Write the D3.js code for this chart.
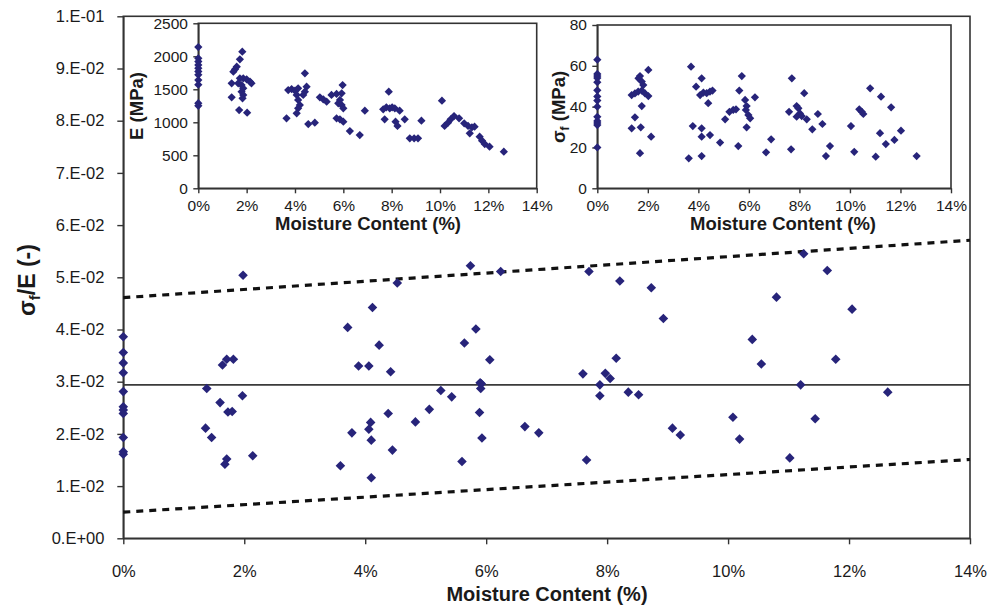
<!DOCTYPE html>
<html>
<head>
<meta charset="utf-8">
<script src="https://cdn.jsdelivr.net/npm/d3@7/dist/d3.min.js"></script>
<style>
  html, body { margin: 0; padding: 0; background: #fff; }
  svg { display: block; font-family: "Liberation Sans", Arial, sans-serif; }
</style>
</head>
<body>
<svg id="chart" width="991" height="610"></svg>
<script>
// ---------------- DATA ----------------
const mainXTicks = [0, 2, 4, 6, 8, 10, 12, 14];
const mainXTickLabels = ["0%", "2%", "4%", "6%", "8%", "10%", "12%", "14%"];
const mainYTicks = [0, 0.01, 0.02, 0.03, 0.04, 0.05, 0.06, 0.07, 0.08, 0.09, 0.1];
const mainYTickLabels = ["0.E+00", "1.E-02", "2.E-02", "3.E-02", "4.E-02", "5.E-02", "6.E-02", "7.E-02", "8.E-02", "9.E-02", "1.E-01"];

// sigma_f / E versus moisture content (%)
const ratioPoints = [
  [0, 0.0386], [0, 0.0356], [0, 0.0336], [0, 0.0317], [0, 0.0281], [0, 0.0252], [0, 0.0246], [0, 0.0239], [0, 0.0193], [0, 0.0166], [0, 0.0161],
  [1.98, 0.0504], [1.38, 0.0287], [1.64, 0.0332], [1.71, 0.0343], [1.82, 0.0343], [1.97, 0.0273], [1.60, 0.0260], [1.73, 0.0242], [1.80, 0.0243],
  [1.36, 0.0211], [1.46, 0.0193], [2.14, 0.0158], [1.71, 0.0152], [1.68, 0.0142],
  [5.74, 0.0522], [6.24, 0.0511], [4.53, 0.0489], [4.12, 0.0442], [3.71, 0.0404], [5.83, 0.0401], [4.23, 0.0370], [5.64, 0.0374], [6.06, 0.0342],
  [3.89, 0.0330], [4.06, 0.0330], [4.42, 0.0319], [5.90, 0.0298], [5.92, 0.0296], [5.91, 0.0287], [5.25, 0.0283], [5.43, 0.0271], [5.06, 0.0247],
  [5.89, 0.0241], [4.38, 0.0239], [4.83, 0.0223], [4.09, 0.0222], [3.78, 0.0202], [4.06, 0.0209], [4.10, 0.0188], [5.93, 0.0192], [6.64, 0.0214],
  [6.87, 0.0202], [4.45, 0.0169], [5.60, 0.0147], [3.59, 0.0139], [4.10, 0.0116],
  [7.70, 0.0511], [8.21, 0.0493], [8.73, 0.0480], [8.93, 0.0421], [10.40, 0.0381], [8.15, 0.0345], [7.60, 0.0315], [7.97, 0.0316], [8.05, 0.0306],
  [7.88, 0.0294], [7.88, 0.0273], [8.35, 0.0280], [8.52, 0.0275], [9.08, 0.0211], [9.21, 0.0198], [10.08, 0.0232], [10.19, 0.0190], [7.66, 0.0150],
  [11.25, 0.0545], [11.64, 0.0513], [10.80, 0.0462], [12.05, 0.0439], [10.55, 0.0334], [11.78, 0.0343], [11.20, 0.0294], [12.64, 0.0280],
  [11.44, 0.0229], [11.02, 0.0154]
];
const meanRatio = 0.0294;
const upperBound = [[0, 0.0461], [14, 0.0571]];
const lowerBound = [[0, 0.0050], [14, 0.0151]];

// Inset 1: E (MPa) versus moisture content (%)
const insetXTicks = [0, 2, 4, 6, 8, 10, 12, 14];
const insetXTickLabels = ["0%", "2%", "4%", "6%", "8%", "10%", "12%", "14%"];
const eTicks = [0, 500, 1000, 1500, 2000, 2500];
const ePoints = [
  [0, 2140], [0, 1970], [0, 1920], [0, 1870], [0, 1820], [0, 1770], [0, 1720], [0, 1640], [0, 1570], [0, 1290], [0, 1250],
  [1.82, 2070], [1.72, 1954], [1.59, 1843], [1.52, 1803], [1.45, 1767], [1.38, 1591], [1.72, 1667], [1.86, 1667], [2.0, 1651], [2.14, 1615],
  [2.2, 1591], [1.65, 1591], [1.79, 1565], [1.86, 1515], [1.79, 1464], [1.86, 1414], [1.38, 1379], [1.83, 1364], [1.69, 1186], [2.02, 1146],
  [3.65, 1060], [3.72, 1489], [3.86, 1504], [4.0, 1479], [4.13, 1515], [4.41, 1742], [4.48, 1540], [4.41, 1464], [4.34, 1414], [4.07, 1414],
  [4.13, 1338], [4.2, 1262], [4.13, 1212], [4.07, 1136], [4.55, 974], [4.82, 994], [5.03, 1379], [5.17, 1348], [5.31, 1312], [5.51, 1414],
  [5.72, 1429], [5.93, 1439], [5.97, 1565], [5.86, 1338], [5.93, 1262], [5.79, 1288], [6.0, 1212], [5.72, 1060], [5.86, 1045], [6.0, 1009],
  [6.27, 868], [6.68, 807], [6.89, 1176],
  [7.88, 1464], [7.65, 1197], [7.78, 1227], [7.92, 1212], [8.02, 1227], [8.13, 1212], [8.33, 1176], [7.71, 1045], [8.16, 1009], [8.24, 944],
  [8.54, 1045], [8.75, 757], [8.93, 757], [9.09, 757], [9.23, 1024],
  [10.08, 1327], [10.19, 944], [10.33, 994], [10.44, 1045], [10.58, 1095], [10.79, 1060], [11.0, 985], [11.16, 944], [11.32, 924], [11.43, 933],
  [11.23, 833], [11.64, 782], [11.74, 721], [11.85, 671], [12.05, 630], [12.64, 554]
];

// Inset 2: sigma_f (MPa) versus moisture content (%)
const sTicks = [0, 20, 40, 60, 80];
const sPoints = [
  [0, 63], [0, 56], [0, 55], [0, 54], [0, 52], [0, 48], [0, 45], [0, 43], [0, 40], [0, 35], [0, 33], [0, 32], [0, 31], [0, 20],
  [1.69, 55.0], [1.63, 53.9], [1.76, 52.3], [1.82, 50.6], [2.02, 58.0], [1.36, 45.7], [1.49, 46.5], [1.62, 47.4], [1.76, 47.9], [1.89, 46.5],
  [2.02, 45.2], [1.76, 40.3], [1.49, 34.8], [1.36, 29.4], [1.72, 29.9], [2.13, 25.3], [1.69, 17.2],
  [3.71, 59.6], [4.13, 53.9], [3.91, 49.8], [4.07, 45.7], [4.2, 46.9], [4.33, 46.6], [4.46, 47.4], [4.56, 47.9], [4.39, 41.7], [3.78, 30.5],
  [4.13, 29.4], [4.13, 25.3], [4.46, 26.1], [4.86, 22.4], [3.62, 14.7], [4.13, 15.8],
  [5.06, 33.8], [5.23, 37.5], [5.38, 38.4], [5.49, 38.7], [5.72, 55.0], [5.62, 47.9], [5.58, 20.7], [5.85, 43.3], [5.91, 40.3], [5.88, 38.4],
  [5.98, 35.9], [6.05, 34.3], [5.91, 29.9], [6.24, 44.6], [6.68, 17.6], [6.88, 24.0],
  [7.70, 53.9], [8.19, 46.6], [7.89, 40.3], [7.96, 39.2], [7.59, 37.5], [8.02, 36.7], [7.89, 35.1], [8.09, 35.4], [8.29, 33.8], [8.73, 36.4],
  [8.51, 28.9], [8.91, 31.5], [7.67, 19.1], [9.21, 20.7], [9.05, 15.8], [10.04, 30.5], [10.17, 17.9], [10.37, 38.7], [10.47, 37.5], [10.53, 36.4],
  [10.80, 49.0], [11.23, 44.9], [11.63, 39.7], [11.19, 27.0], [11.02, 15.5], [11.42, 21.7], [11.76, 23.7], [12.02, 28.2], [12.64, 15.8]
];

// ---------------- DRAW ----------------
const svg = d3.select("#chart");
const markerColor = "#27247a";
const axisColor = "#333";
const textColor = "#1a1a1a";

// square rotated 45 degrees -> Excel-style diamond
const square = d3.symbol().type(d3.symbolSquare);

function drawAxes(g, x, y, xTicks, xLabels, yTicks, yLabels, fontSize, tickLen) {
  const [x0, x1] = x.range();
  const [y0, y1] = y.range();
  g.append("rect")
    .attr("x", x0).attr("y", y1)
    .attr("width", x1 - x0).attr("height", y0 - y1)
    .attr("fill", "#fff").attr("stroke", axisColor).attr("stroke-width", 1.6);

  const xAxis = d3.axisBottom(x).tickValues(xTicks).tickSize(tickLen).tickSizeOuter(0)
    .tickFormat((d, i) => xLabels[i]);
  const gx = g.append("g").attr("transform", `translate(0,${y0})`).call(xAxis);
  gx.select(".domain").attr("stroke", axisColor).attr("stroke-width", 1.6);
  gx.selectAll(".tick line").attr("stroke", axisColor).attr("stroke-width", 1.4);
  gx.selectAll(".tick text").attr("fill", textColor).attr("font-size", fontSize)
    .attr("font-family", "Liberation Sans, Arial, sans-serif");

  const yAxis = d3.axisLeft(y).tickValues(yTicks).tickSize(tickLen).tickSizeOuter(0)
    .tickFormat((d, i) => yLabels[i]);
  const gy = g.append("g").attr("transform", `translate(${x0},0)`).call(yAxis);
  gy.select(".domain").attr("stroke", axisColor).attr("stroke-width", 1.6);
  gy.selectAll(".tick line").attr("stroke", axisColor).attr("stroke-width", 1.4);
  gy.selectAll(".tick text").attr("fill", textColor).attr("font-size", fontSize)
    .attr("font-family", "Liberation Sans, Arial, sans-serif");
  return { gx, gy };
}

// ----- Main chart -----
const mx = d3.scaleLinear().domain([0, 14]).range([123.3, 970]);
const my = d3.scaleLinear().domain([0, 0.1]).range([538.3, 16.3]);
const main = svg.append("g");
const mAx = drawAxes(main, mx, my, mainXTicks, mainXTickLabels, mainYTicks, mainYTickLabels, 16.5, 6);
mAx.gx.selectAll(".tick text").attr("dy", "1.8em");
mAx.gy.selectAll(".tick text").attr("dx", "-0.6em");

main.append("line")
  .attr("x1", mx(0)).attr("x2", mx(14))
  .attr("y1", my(meanRatio)).attr("y2", my(meanRatio))
  .attr("stroke", "#3a3a3a").attr("stroke-width", 1.6);

const lineGen = d3.line().x(d => mx(d[0])).y(d => my(d[1]));
[upperBound, lowerBound].forEach(b => {
  main.append("path").attr("d", lineGen(b))
    .attr("fill", "none").attr("stroke", "#111").attr("stroke-width", 3.2)
    .attr("stroke-dasharray", "7,6");
});

main.append("g").selectAll("path").data(ratioPoints).join("path")
  .attr("d", square.size(46)())
  .attr("transform", d => `translate(${mx(d[0])},${my(d[1])}) rotate(45)`)
  .attr("fill", markerColor);

main.append("text")
  .attr("x", 547).attr("y", 601)
  .attr("text-anchor", "middle").attr("font-weight", "bold").attr("font-size", 20)
  .attr("fill", textColor).text("Moisture Content (%)");

const yt = main.append("text")
  .attr("transform", "translate(35,280) rotate(-90)")
  .attr("text-anchor", "middle").attr("font-weight", "bold").attr("font-size", 23)
  .attr("fill", textColor);
yt.append("tspan").text("σ");
yt.append("tspan").attr("font-size", 15).attr("dy", 5).text("f");
yt.append("tspan").attr("dy", -5).text("/E (-)");

// ----- Inset 1: E -----
const ex = d3.scaleLinear().domain([0, 14]).range([198.3, 536.7]);
const ey = d3.scaleLinear().domain([0, 2500]).range([188.3, 23.3]);
const in1 = svg.append("g");
const a1 = drawAxes(in1, ex, ey, insetXTicks, insetXTickLabels, eTicks, eTicks.map(String), 15.5, 5);
a1.gx.selectAll(".tick text").attr("dy", "0.95em");
a1.gy.selectAll(".tick text").attr("dx", "-0.15em");
in1.append("g").selectAll("path").data(ePoints).join("path")
  .attr("d", square.size(34)())
  .attr("transform", d => `translate(${ex(d[0])},${ey(d[1])}) rotate(45)`)
  .attr("fill", markerColor);
in1.append("text")
  .attr("x", 368).attr("y", 229.5)
  .attr("text-anchor", "middle").attr("font-weight", "bold").attr("font-size", 18.5)
  .attr("fill", textColor).text("Moisture Content (%)");
in1.append("text")
  .attr("transform", "translate(143,106) rotate(-90)")
  .attr("text-anchor", "middle").attr("font-weight", "bold").attr("font-size", 18.5)
  .attr("fill", textColor).text("E (MPa)");

// ----- Inset 2: sigma_f -----
const sx = d3.scaleLinear().domain([0, 14]).range([597.3, 951]);
const sy = d3.scaleLinear().domain([0, 80]).range([188.3, 25]);
const in2 = svg.append("g");
const a2 = drawAxes(in2, sx, sy, insetXTicks, insetXTickLabels, sTicks, sTicks.map(String), 15.5, 5);
a2.gx.selectAll(".tick text").attr("dy", "0.95em");
a2.gy.selectAll(".tick text").attr("dx", "-0.15em");
in2.append("g").selectAll("path").data(sPoints).join("path")
  .attr("d", square.size(34)())
  .attr("transform", d => `translate(${sx(d[0])},${sy(d[1])}) rotate(45)`)
  .attr("fill", markerColor);
in2.append("text")
  .attr("x", 783).attr("y", 229.5)
  .attr("text-anchor", "middle").attr("font-weight", "bold").attr("font-size", 18.5)
  .attr("fill", textColor).text("Moisture Content (%)");
const st = in2.append("text")
  .attr("transform", "translate(565,107) rotate(-90)")
  .attr("text-anchor", "middle").attr("font-weight", "bold").attr("font-size", 18.5)
  .attr("fill", textColor);
st.append("tspan").text("σ");
st.append("tspan").attr("font-size", 12).attr("dy", 4).text("f");
st.append("tspan").attr("dy", -4).text(" (MPa)");
</script>
</body>
</html>
